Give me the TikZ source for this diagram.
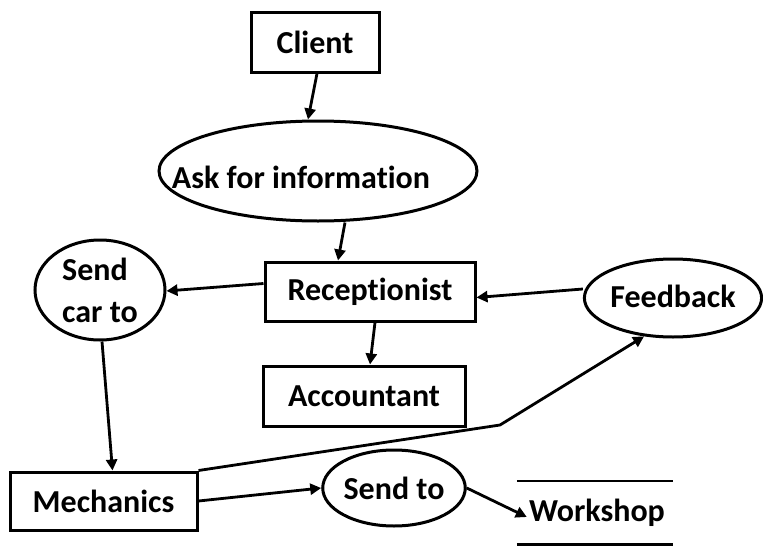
\documentclass[tikz,border=0pt]{standalone}
\usepackage{fontspec}
\setmainfont[Ligatures=NoCommon]{Carlito}
\usetikzlibrary{shapes.geometric, arrows.meta, positioning, calc}
\tikzset{
  dfd box/.style={
    rectangle, draw=black, line width=3pt, fill=white,
    inner sep=0pt, text centered
  },
  dfd proc/.style={
    ellipse, draw=black, line width=3pt, fill=white,
    inner sep=0pt, text centered
  },
  dfd store/.style={
    rectangle, inner sep=0pt, text centered
  },
  dfd arrow/.style={
    -{Triangle[length=11pt, width=11pt]}, line width=2.8pt, draw=black
  }
}

\begin{document}
\begin{tikzpicture}[x=1pt, y=-1pt, font=\fontsize{32}{36}\selectfont\bfseries, align=center]
  \useasboundingbox (0,0) rectangle (763,546);
  % Top: client and request
  \node (client) [dfd box, minimum width=128pt, minimum height=60pt] at (315,42) {Client};
  \node (ask) [dfd proc, minimum width=318pt, minimum height=100pt,
    label={[xshift=-17pt, yshift=-6pt]center:Ask for information}] at (318,171) {};
  % Middle row
  \node (recep) [dfd box, minimum width=210pt, minimum height=59pt] at (370,291.5) {Receptionist};
  \node (acc) [dfd box, minimum width=202pt, minimum height=60pt] at (364,396) {Accountant};
  \node (feed) [dfd proc, minimum width=176pt, minimum height=78pt] at (673,298) {\raisebox{4pt}{Feedback}};
  \node (sendcar) [dfd proc, minimum width=130pt, minimum height=100pt, align=left] at (100,290) {Send\\[6pt]car to};
  % Bottom row
  \node (mech) [dfd box, minimum width=187pt, minimum height=58pt] at (103.5,501) {Mechanics};
  \node (sendto) [dfd proc, minimum width=142pt, minimum height=76pt] at (394,488) {Send to};
  \node (shop) [dfd store, minimum width=156pt, minimum height=63pt] at (595,512.5) {\hspace*{4pt}\raisebox{-7pt}{Workshop}};
  \draw [line width=2.6pt] (shop.north west) -- (shop.north east);
  \draw [line width=2.6pt] (shop.south west) -- (shop.south east);
  \coordinate (bend) at (500,425);

  \draw [dfd arrow] ([xshift=2pt]client.south) -- ([xshift=-10pt]ask.north);
  \draw [dfd arrow] ([xshift=27pt]ask.south) -- ([xshift=-32pt]recep.north);
  \draw [dfd arrow] ([yshift=8pt]recep.west) -- ([yshift=-1pt]sendcar.east);
  \draw [dfd arrow] ([yshift=9pt]feed.west) -- ([yshift=-6pt]recep.east);
  \draw [dfd arrow] ([xshift=5pt]recep.south) -- ([xshift=6pt]acc.north);
  \draw [dfd arrow] ([xshift=2pt]sendcar.south) -- ([xshift=9pt]mech.north);
  \draw [dfd arrow] (mech.north east) -- (bend) -- (feed.233);
  \draw [dfd arrow] (mech.east) -- (sendto.west);
  \draw [dfd arrow] (sendto.east) -- ([xshift=10pt, yshift=-4.5pt]shop.west);
\end{tikzpicture}
\end{document}
